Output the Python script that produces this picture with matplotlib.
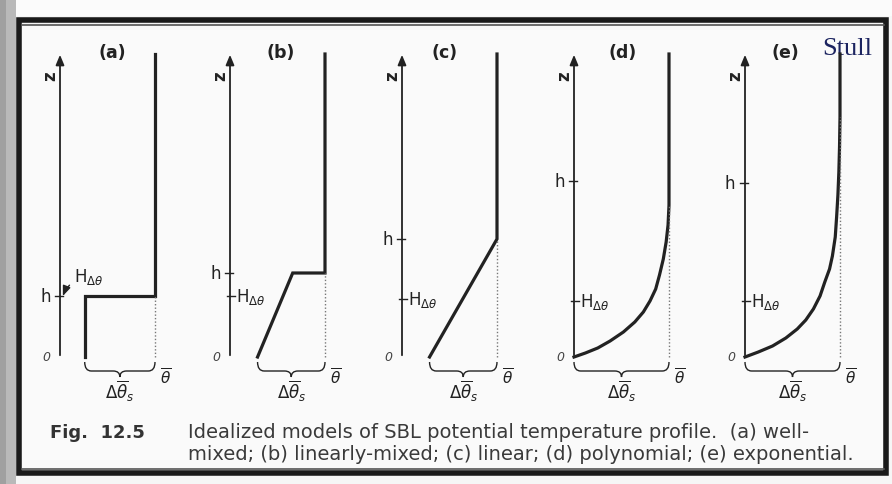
import numpy as np
import matplotlib
matplotlib.use('Agg')
import matplotlib.pyplot as plt
from matplotlib.path import Path
from matplotlib.patches import PathPatch, Rectangle

# panel data: theta in units of the inversion strength, z in units of 100 px
panel_names = ['(a)', '(b)', '(c)', '(d)', '(e)']
origin_px = [60, 230, 402, 574, 745]

theta_a = [0.26, 0.26, 1.0, 1.0]
z_a = [0.0, 0.61, 0.61, 3.03]
theta_b = [0.29, 0.66, 1.0, 1.0]
z_b = [0.0, 0.84, 0.84, 3.03]
theta_c = [0.29, 1.0, 1.0]
z_c = [0.0, 1.18, 3.03]
theta_d = [0.0, 0.12, 0.25, 0.38, 0.52, 0.64, 0.73, 0.80, 0.86, 0.90, 0.94, 0.97, 0.99, 1.0, 1.0]
z_d = [0.0, 0.04, 0.09, 0.16, 0.25, 0.35, 0.45, 0.56, 0.68, 0.82, 0.98, 1.15, 1.32, 1.52, 3.03]
theta_e = [0.0, 0.14, 0.29, 0.43, 0.55, 0.64, 0.72, 0.79, 0.84, 0.89, 0.92, 0.95, 0.965, 0.978, 0.988, 0.995, 1.0, 1.0]
z_e = [0.0, 0.05, 0.11, 0.19, 0.28, 0.37, 0.48, 0.61, 0.75, 0.88, 1.01, 1.20, 1.41, 1.62, 1.85, 2.10, 2.40, 3.03]

thetas = [theta_a, theta_b, theta_c, theta_d, theta_e]
zs = [z_a, z_b, z_c, z_d, z_e]
h_vals = [0.61, 0.84, 1.18, 1.76, 1.74]
H_vals = [0.61, 0.61, 0.58, 0.56, 0.56]
dot_tops = [0.61, 0.84, 1.18, 1.52, 2.40]

caption_1 = 'Idealized models of SBL potential temperature profile.  (a) well-'
caption_2 = 'mixed; (b) linearly-mixed; (c) linear; (d) polynomial; (e) exponential.'

W, H = 892, 485
fig = plt.figure(figsize=(W / 100, H / 100), dpi=100)
fig.patch.set_facecolor('#f6f6f6')

# background / frame in pixel coordinates
bg = fig.add_axes([0, 0, 1, 1])
bg.set_xlim(0, W)
bg.set_ylim(H, 0)
bg.axis('off')
bg.add_patch(Rectangle((0, 0), 16, H, color='#b9b9b9', lw=0))
bg.add_patch(Rectangle((0, 0), 6, H, color='#a0a0a0', lw=0))
bg.add_patch(Rectangle((16, 0), W, 17, color='#fbfbfb', lw=0))
bg.add_patch(Rectangle((21, 27), 862, 443, color='#fafafa', lw=0))
bg.add_patch(Rectangle((19, 21), 867, 453, fill=False, ec='#1a1a1a', lw=4))
bg.plot([22, 884], [26, 26], color='#555555', lw=1.2)
bg.plot([22, 884], [470, 470], color='#555555', lw=1.2)
bg.text(50, 433, 'Fig.  12.5', fontsize=13, fontweight='bold', family='DejaVu Sans',
        color='#333333', va='center')
bg.text(188, 433, caption_1, fontsize=14, family='DejaVu Sans', color='#3a3a3a', va='center')
bg.text(188, 455, caption_2, fontsize=14, family='DejaVu Sans', color='#3a3a3a', va='center')
bg.text(822, 55, 'Stull', fontsize=19, family='Liberation Serif', color='#1c2460', va='baseline')

ink = '#222222'


def brace(ax, x0, x1, yt=-0.05, d=0.15):
    mid = (x0 + x1) / 2
    q = 0.07
    ym = yt - d * 0.6
    verts = [(x0, yt), (x0, ym), (x0 + q, ym),
             (mid - q, ym), (mid, ym), (mid, yt - d),
             (mid, ym), (mid + q, ym),
             (x1 - q, ym), (x1, ym), (x1, yt)]
    codes = [Path.MOVETO, Path.CURVE3, Path.CURVE3,
             Path.LINETO, Path.CURVE3, Path.CURVE3,
             Path.CURVE3, Path.CURVE3,
             Path.LINETO, Path.CURVE3, Path.CURVE3]
    ax.add_patch(PathPatch(Path(verts, codes), fill=False, ec=ink, lw=1.0))


for i in range(5):
    ox = origin_px[i]
    ax = fig.add_axes([(ox - 45) / W, (H - 400) / H, 150 / W, 360 / H])
    ax.set_xlim(-45 / 95, 105 / 95)
    ax.set_ylim(-0.42, 3.18)
    ax.axis('off')
    ax.patch.set_alpha(0)

    # axes with arrows
    ax.annotate('', xy=(0, 3.05), xytext=(0, -0.01),
                arrowprops=dict(arrowstyle='-|>,head_length=0.6,head_width=0.25', color=ink, lw=1.3))
    ax.annotate('', xy=(1.32, 0), xytext=(-0.01, 0),
                arrowprops=dict(arrowstyle='-|>,head_length=0.6,head_width=0.25', color=ink, lw=1.3))

    th = thetas[i]
    ax.plot(th, zs[i], color=ink, lw=2.3, solid_joinstyle='miter')
    ax.plot([1.0, 1.0], [0, dot_tops[i]], color='#777777', lw=1.0, ls=(0, (1, 1.5)))

    ax.text(-0.1, 2.82, 'z', fontsize=12, fontweight='bold', rotation=90,
            ha='center', va='center', color=ink)
    ax.text([0.55, 0.53, 0.45, 0.51, 0.42][i], 3.05, panel_names[i], fontsize=12.5,
            fontweight='bold', ha='center', va='center', color=ink)
    ax.text(-0.14, 0.0, '0', fontsize=9, style='italic', ha='center', va='center', color='#444444')
    ax.text(1.11, -0.2, r'$\overline{\theta}$', fontsize=11, ha='center', va='center', color=ink)

    # h and H ticks
    h = h_vals[i]
    ax.plot([-0.05, 0.03], [h, h], color=ink, lw=1.0)
    ax.text(-0.1, h, 'h', fontsize=12, ha='right', va='center', color=ink)
    if i == 0:
        ax.annotate(r'H$_{\Delta\theta}$', xy=(0.03, h), xytext=(0.15, h + 0.2),
                    fontsize=12, va='center', color=ink,
                    arrowprops=dict(arrowstyle='-|>,head_length=0.5,head_width=0.2', color=ink,
                                    lw=1.0, connectionstyle='arc3,rad=0.3', shrinkA=2, shrinkB=0))
    else:
        Hv = H_vals[i]
        ax.plot([-0.03, 0.05], [Hv, Hv], color=ink, lw=1.0)
        ax.text(0.06, Hv, r'H$_{\Delta\theta}$', fontsize=12, ha='left', va='center', color=ink)

    # inversion strength brace
    x0 = th[0]
    brace(ax, x0, 1.0)
    ax.text((x0 + 1.0) / 2, -0.33, r'$\Delta\overline{\theta}_s$', fontsize=12,
            ha='center', va='center', color=ink)

fig.savefig('out.png', dpi=100)
